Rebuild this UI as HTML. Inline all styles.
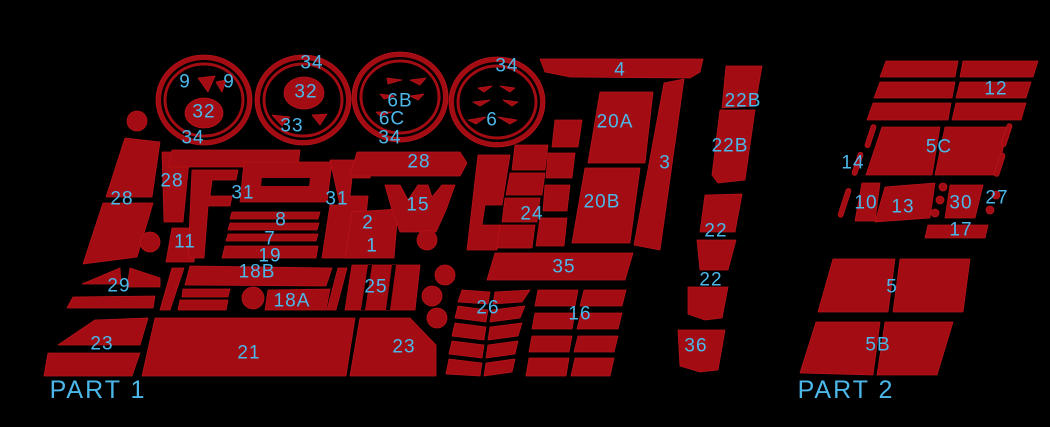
<!DOCTYPE html>
<html><head><meta charset="utf-8"><style>
html,body{margin:0;padding:0;background:#000;}
svg{display:block}
text{font-family:"Liberation Sans",sans-serif;fill:#4cb8ea;font-size:19px;text-anchor:middle;dominant-baseline:central;letter-spacing:1px}
</style></head><body>
<svg width="1050" height="427" viewBox="0 0 1050 427" xmlns="http://www.w3.org/2000/svg">
<rect width="1050" height="427" fill="#000"/>
<g fill="#a20c12" stroke="#b8141a" stroke-width="0.8" stroke-linejoin="round">
<g>
<ellipse cx="204" cy="100" rx="48" ry="45"/>
<ellipse cx="303" cy="100" rx="48" ry="45"/>
<ellipse cx="400" cy="97" rx="48" ry="45"/>
<ellipse cx="497" cy="102" rx="48" ry="45"/>
</g>
<g fill="#000" stroke="none">
<ellipse cx="204" cy="100" rx="43" ry="40"/>
<ellipse cx="303" cy="100" rx="43" ry="40"/>
<ellipse cx="400" cy="97" rx="43" ry="40"/>
<ellipse cx="497" cy="102" rx="43" ry="40"/>
</g>
<g fill="none" stroke="#a20c12" stroke-width="3">
<ellipse cx="204" cy="100" rx="39" ry="36"/>
<ellipse cx="303" cy="100" rx="39" ry="36"/>
<ellipse cx="400" cy="97" rx="39" ry="36"/>
<ellipse cx="497" cy="102" rx="39" ry="36"/>
</g>
<ellipse cx="204" cy="113" rx="19" ry="15"/>
<polygon points="198,78 215,76 208,92"/>
<polygon points="216,82 226,80 222,92"/>
<ellipse cx="304" cy="93" rx="20" ry="16"/>
<polygon points="272,115 290,117 282,126"/>
<polygon points="312,115 327,114 320,125"/>
<polygon points="387,78 402,80 388,84"/>
<polygon points="410,80 426,78 420,85"/>
<polygon points="380,94 395,96 384,99"/>
<polygon points="410,96 424,94 418,100"/>
<polygon points="376,112 392,112 380,116"/>
<polygon points="478,88 492,86 484,92"/>
<polygon points="500,86 515,88 510,92"/>
<polygon points="473,102 490,100 480,106"/>
<polygon points="503,100 518,102 512,106"/>
<polygon points="468,120 486,117 476,124"/>
<polygon points="498,117 517,120 510,124"/>
<circle cx="137" cy="121" r="10"/>
<polygon points="125,138 160,142 152,197 106,197"/>
<polygon points="103,203 153,203 137,257 83,264"/>
<circle cx="150" cy="242" r="10"/>
<polygon points="172,228 198,228 194,262 166,262"/>
<polygon points="162,152 190,152 183,222 164,222"/>
<polygon points="172,150 300,150 298,167 168,167"/>
<polygon points="192,170 238,170 236,180 212,180 210,196 232,196 230,206 208,206 204,258 188,258"/>
<polygon points="244,162 332,162 327,202 240,202"/>
<polygon points="262,178 310,178 309,186 261,186" fill="#000" stroke="none"/>
<polygon points="232,212 320,212 318,219 230,219"/>
<polygon points="230,223 319,223 317,230 228,230"/>
<polygon points="228,234 318,234 316,241 226,241"/>
<polygon points="225,246 318,246 316,258 222,258"/>
<polygon points="330,160 372,160 370,178 352,178 350,196 368,196 362,258 322,258 330,205 340,205"/>
<polygon points="352,212 398,209 394,258 345,258"/>
<polygon points="357,152 460,152 467,163 460,176 350,176"/>
<polygon points="385,185 400,185 408,200 418,185 428,185 432,197 442,185 455,185 446,210 436,232 420,232 400,232 392,210"/>
<circle cx="427" cy="240" r="10"/>
<polygon points="82,284 120,268 121,284"/>
<polygon points="130,268 160,278 160,287 127,287"/>
<polygon points="73,297 155,296 153,308 67,308"/>
<polygon points="172,268 184,268 170,310 160,310"/>
<polygon points="190,266 332,268 326,286 185,285"/>
<polygon points="183,289 230,289 228,297 182,297"/>
<polygon points="180,300 228,300 226,310 178,310"/>
<circle cx="253" cy="298" r="11"/>
<polygon points="268,290 330,289 326,310 265,310"/>
<polygon points="338,268 347,268 336,310 327,310"/>
<polygon points="352,265 420,265 415,310 345,310"/>
<polygon points="368,265 372,265 365,310 361,310" fill="#000" stroke="none"/>
<polygon points="392,265 396,265 390,310 386,310" fill="#000" stroke="none"/>
<circle cx="445" cy="275" r="10"/><circle cx="432" cy="296" r="10"/><circle cx="437" cy="318" r="10"/>
<polygon points="58,345 95,320 148,318 140,345"/>
<polygon points="48,353 140,353 132,376 44,376"/>
<polygon points="155,318 355,318 346,376 142,376"/>
<polygon points="360,318 410,318 436,345 436,376 350,376"/>
<polygon points="462,290 490,292 488,304 458,302"/>
<polygon points="495,292 530,290 522,302 493,304"/>
<polygon points="458,306 488,310 486,322 455,318"/>
<polygon points="492,310 525,306 520,318 490,322"/>
<polygon points="455,323 486,327 484,340 452,336"/>
<polygon points="490,327 522,323 518,336 488,340"/>
<polygon points="452,341 484,345 482,358 449,354"/>
<polygon points="488,345 518,341 515,354 486,358"/>
<polygon points="449,359 482,363 480,376 446,374"/>
<polygon points="486,363 515,359 512,372 484,376"/>
<polygon points="495,253 633,253 625,280 487,280"/>
<g>
<polygon points="538,290 578,290 575,306 535,306"/><polygon points="584,290 626,290 622,306 580,306"/>
<polygon points="535,313 575,313 572,329 532,329"/><polygon points="581,313 622,313 618,329 577,329"/>
<polygon points="532,336 572,336 569,352 529,352"/><polygon points="578,336 618,336 614,352 574,352"/>
<polygon points="529,358 569,358 566,376 526,376"/><polygon points="575,358 614,358 610,376 571,376"/>
</g>
<polygon points="478,155 510,155 502,205 485,205 482,225 500,225 497,250 467,250"/>
<polygon points="515,145 548,145 545,170 512,170"/>
<polygon points="510,173 545,173 542,195 506,195"/>
<polygon points="505,198 540,198 537,222 502,222"/>
<polygon points="500,225 535,225 532,248 497,248"/>
<polygon points="555,120 582,120 578,147 552,147"/>
<polygon points="548,153 575,153 572,178 546,178"/>
<polygon points="545,185 570,185 567,211 543,211"/>
<polygon points="540,218 567,218 564,246 536,246"/>
<polygon points="600,92 653,92 645,163 588,163"/>
<polygon points="585,168 640,168 630,243 572,243"/>
<polygon points="664,83 684,79 660,250 634,245"/>
<polygon points="540,59 703,59 700,72 690,78 570,77 545,72"/>
<polygon points="726,66 762,66 755,106 722,108"/>
<polygon points="720,110 755,110 745,180 718,183 712,175"/>
<polygon points="705,195 742,194 735,232 700,232"/>
<polygon points="697,240 736,240 728,270 700,270"/>
<polygon points="688,287 728,287 722,318 705,320 688,314"/>
<polygon points="678,330 725,330 718,370 700,372 680,366"/>
<polygon points="886,61 958,61 955,77 880,77"/><polygon points="963,61 1038,61 1033,77 960,77"/>
<polygon points="880,82 955,82 952,98 874,98"/><polygon points="960,82 1031,82 1026,98 956,98"/>
<polygon points="873,103 951,103 948,120 867,120"/><polygon points="956,103 1026,103 1021,120 952,120"/>
<polygon points="882,127 940,127 932,175 866,175"/><polygon points="945,127 1007,127 998,175 935,175"/>
<rect x="868" y="124" width="5" height="24" rx="2.5" transform="rotate(18 870 136)"/>
<rect x="855" y="152" width="5" height="24" rx="2.5" transform="rotate(18 858 164)"/>
<rect x="1004" y="123" width="5" height="24" rx="2.5" transform="rotate(18 1006 135)"/>
<rect x="997" y="153" width="5" height="24" rx="2.5" transform="rotate(18 1000 165)"/>
<rect x="842" y="188" width="5" height="30" rx="2.5" transform="rotate(18 845 203)"/>
<polygon points="862,183 880,183 875,221 855,221"/>
<polygon points="885,187 935,183 930,218 875,222"/>
<circle cx="943" cy="187" r="4"/><circle cx="940" cy="200" r="4"/><circle cx="935" cy="213" r="4"/>
<polygon points="950,185 983,185 975,218 945,218"/>
<circle cx="996" cy="195" r="4"/><circle cx="990" cy="210" r="4"/>
<polygon points="928,225 988,225 985,238 925,238"/>
<polygon points="833,259 895,259 888,312 818,312"/><polygon points="900,259 970,259 963,312 893,312"/>
<polygon points="816,322 880,322 873,375 800,373"/><polygon points="885,322 953,322 937,375 877,375"/>
</g>
<g>
<text x="185" y="82">9</text><text x="229" y="82">9</text><text x="204" y="112">32</text><text x="193" y="138">34</text>
<text x="312" y="63">34</text><text x="306" y="92">32</text><text x="292" y="126">33</text>
<text x="400" y="101">6B</text><text x="392" y="119">6C</text><text x="390" y="138">34</text>
<text x="507" y="66">34</text><text x="492" y="120">6</text><text x="620" y="70">4</text>
<text x="615" y="122">20A</text><text x="665" y="163">3</text><text x="602" y="202">20B</text>
<text x="743" y="101">22B</text><text x="730" y="146">22B</text><text x="716" y="231">22</text><text x="711" y="280">22</text><text x="696" y="346">36</text>
<text x="172" y="181">28</text><text x="122" y="199">28</text><text x="243" y="193">31</text><text x="337" y="199">31</text>
<text x="419" y="162">28</text><text x="418" y="205">15</text><text x="281" y="220">8</text><text x="270" y="239">7</text><text x="270" y="256">19</text>
<text x="368" y="223">2</text><text x="372" y="246">1</text><text x="185" y="242">11</text><text x="257" y="272">18B</text><text x="292" y="301">18A</text>
<text x="119" y="286">29</text><text x="376" y="287">25</text><text x="532" y="214">24</text><text x="564" y="267">35</text>
<text x="488" y="308">26</text><text x="580" y="314">16</text><text x="102" y="344">23</text><text x="249" y="353">21</text><text x="404" y="347">23</text>
<text x="996" y="89">12</text><text x="939" y="147">5C</text><text x="853" y="163">14</text><text x="866" y="203">10</text><text x="903" y="207">13</text>
<text x="961" y="203">30</text><text x="997" y="198">27</text><text x="961" y="230">17</text><text x="892" y="287">5</text><text x="878" y="345">5B</text>
<text x="98" y="390" style="font-size:25px;letter-spacing:2px">PART 1</text>
<text x="846" y="390" style="font-size:25px;letter-spacing:2px">PART 2</text>
</g>
</svg>
</body></html>
